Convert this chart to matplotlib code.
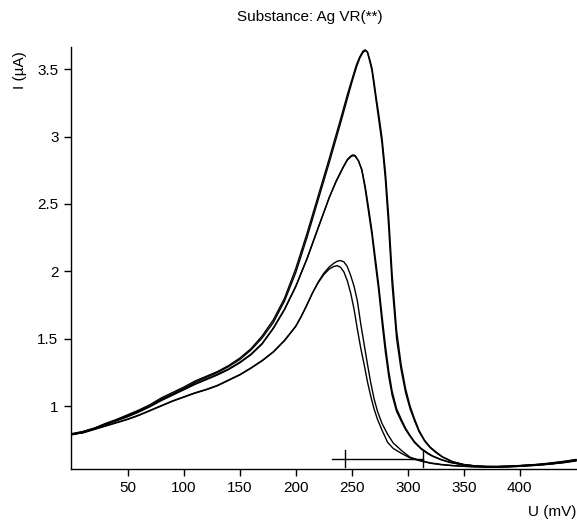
import matplotlib
matplotlib.use("Agg")
import matplotlib.pyplot as plt

# ---- data (U in mV, I in µA) ----
P1_U = [0, 10, 20, 30, 40, 50, 60, 70, 80, 90, 100, 110, 120, 130, 140, 150, 160, 170, 180, 190,
        200, 210, 220, 230, 240, 246, 250, 254, 257, 260, 262, 264, 266, 268, 270, 272, 274, 277,
        280, 283, 286, 290, 294, 298, 302, 306, 310, 315, 320, 325, 331, 340, 350, 360, 370, 380,
        390, 400, 410, 420, 430, 440, 450]
I_1a = [0.79, 0.81, 0.835, 0.87, 0.90, 0.935, 0.97, 1.01, 1.06, 1.10, 1.14, 1.185, 1.22, 1.255,
        1.30, 1.355, 1.425, 1.52, 1.64, 1.80, 2.02, 2.28, 2.56, 2.84, 3.13, 3.31, 3.42, 3.53, 3.59,
        3.635, 3.645, 3.625, 3.56, 3.49, 3.37, 3.25, 3.13, 2.95, 2.68, 2.32, 1.90, 1.50, 1.27,
        1.10, 0.98, 0.89, 0.81, 0.74, 0.69, 0.655, 0.62, 0.585, 0.565, 0.555, 0.55, 0.55, 0.552,
        0.557, 0.562, 0.567, 0.575, 0.585, 0.60]
I_1b = [0.785, 0.805, 0.83, 0.862, 0.895, 0.93, 0.962, 1.0, 1.05, 1.09, 1.13, 1.175, 1.212,
        1.248, 1.292, 1.345, 1.415, 1.505, 1.62, 1.78, 1.99, 2.25, 2.53, 2.81, 3.10, 3.28, 3.40,
        3.51, 3.58, 3.625, 3.638, 3.63, 3.575, 3.51, 3.40, 3.28, 3.17, 2.99, 2.74, 2.40, 1.98,
        1.56, 1.31, 1.13, 1.0, 0.905, 0.82, 0.745, 0.695, 0.66, 0.623, 0.587, 0.566, 0.556,
        0.551, 0.55, 0.551, 0.555, 0.56, 0.566, 0.573, 0.582, 0.595]

P2_U = [0, 10, 20, 30, 40, 50, 60, 70, 80, 90, 100, 110, 120, 130, 140, 150, 160, 170, 180, 190,
        200, 210, 220, 230, 236, 242, 246, 249, 251, 253, 256, 259, 262, 265, 268, 271, 274, 277,
        280, 283, 286, 290, 294, 298, 302, 306, 312, 318, 322, 330, 338, 350, 360, 370, 380, 390,
        400, 410, 420, 430, 440, 450]
I_2a = [0.79, 0.805, 0.83, 0.86, 0.89, 0.92, 0.955, 0.995, 1.04, 1.08, 1.12, 1.16, 1.195, 1.23,
        1.27, 1.32, 1.38, 1.46, 1.575, 1.715, 1.885, 2.09, 2.32, 2.55, 2.67, 2.77, 2.83, 2.855, 2.865,
        2.86, 2.82, 2.75, 2.61, 2.44, 2.27, 2.06, 1.86, 1.62, 1.40, 1.22, 1.08, 0.96, 0.89, 0.825,
        0.775, 0.728, 0.68, 0.645, 0.627, 0.60, 0.58, 0.562, 0.553, 0.55, 0.55, 0.553, 0.557,
        0.562, 0.568, 0.577, 0.588, 0.60]
I_2b = [0.795, 0.81, 0.835, 0.865, 0.895, 0.925, 0.96, 1.0, 1.045, 1.085, 1.125, 1.165, 1.2,
        1.235, 1.275, 1.325, 1.385, 1.465, 1.58, 1.72, 1.89, 2.095, 2.325, 2.55, 2.665, 2.765,
        2.825, 2.85, 2.858, 2.855, 2.82, 2.755, 2.63, 2.47, 2.30, 2.10, 1.90, 1.67, 1.45, 1.26,
        1.11, 0.98, 0.905, 0.835, 0.782, 0.735, 0.685, 0.65, 0.63, 0.602, 0.582, 0.563, 0.554,
        0.551, 0.551, 0.554, 0.558, 0.563, 0.57, 0.58, 0.59, 0.603]

P3_U = [0, 10, 20, 30, 40, 50, 60, 70, 80, 90, 100, 110, 120, 130, 140, 150, 160, 170, 180, 190,
        200, 205, 210, 215, 220, 225, 230, 234, 237, 240, 243, 246, 249, 252, 255, 258, 261, 264,
        267, 270, 273, 277, 282, 287, 295, 302, 310, 320, 330, 340, 350, 360, 370, 380, 390, 400,
        410, 420, 430, 440, 450]
I_3a = [0.79, 0.80, 0.825, 0.85, 0.875, 0.90, 0.93, 0.965, 1.0, 1.035, 1.065, 1.095, 1.12, 1.15,
        1.19, 1.23, 1.28, 1.335, 1.40, 1.485, 1.59, 1.665, 1.75, 1.84, 1.92, 1.985, 2.033, 2.06,
        2.075, 2.08, 2.07, 2.035, 1.97, 1.89, 1.78, 1.61, 1.46, 1.31, 1.17, 1.05, 0.96, 0.87,
        0.79, 0.725, 0.665, 0.62, 0.598, 0.578, 0.566, 0.558, 0.553, 0.549, 0.547, 0.547, 0.549,
        0.553, 0.558, 0.564, 0.572, 0.582, 0.595]
I_3b = [0.79, 0.802, 0.828, 0.853, 0.878, 0.903, 0.933, 0.968, 1.003, 1.038, 1.068, 1.098, 1.123,
        1.153, 1.193, 1.233, 1.283, 1.338, 1.403, 1.488, 1.593, 1.668, 1.752, 1.84, 1.915, 1.975,
        2.018, 2.036, 2.042, 2.03, 1.995, 1.93, 1.84, 1.72, 1.57, 1.43, 1.31, 1.18, 1.07, 0.975,
        0.90, 0.82, 0.73, 0.685, 0.645, 0.615, 0.595, 0.575, 0.564, 0.557, 0.552, 0.548, 0.546,
        0.546, 0.548, 0.552, 0.557, 0.563, 0.571, 0.58, 0.592]

# baseline marker
BASE_U = [232.5, 313.5]
BASE_I = 0.605
MARK_U = [243.8, 313.5]
MARK_I = [0.545, 0.675]

X_TICKS = [50, 100, 150, 200, 250, 300, 350, 400]
Y_TICKS = [1, 1.5, 2, 2.5, 3, 3.5]
Y_TICKLABELS = ["1", "1.5", "2", "2.5", "3", "3.5"]

plt.rcParams['font.family'] = ['Liberation Sans', 'DejaVu Sans']

fig = plt.figure(figsize=(5.77, 5.20), dpi=100)
ax = fig.add_axes([0.1225, 0.098, 0.8775, 0.8115])

for U, I in [(P1_U, I_1a), (P1_U, I_1b), (P2_U, I_2a), (P2_U, I_2b), (P3_U, I_3a), (P3_U, I_3b)]:
    ax.plot(U, I, color='black', lw=1.0, solid_joinstyle='round')

ax.plot(BASE_U, [BASE_I, BASE_I], color='black', lw=1.0, clip_on=False)
for u in MARK_U:
    ax.plot([u, u], MARK_I, color='black', lw=1.0, clip_on=False)

ax.set_xlim(-0.85, 451)
ax.set_ylim(0.532, 3.665)
ax.spines['top'].set_visible(False)
ax.spines['right'].set_visible(False)
ax.spines['left'].set_linewidth(1.0)
ax.spines['bottom'].set_linewidth(1.0)
ax.set_xticks(X_TICKS)
ax.set_yticks(Y_TICKS)
ax.set_yticklabels(Y_TICKLABELS)
ax.tick_params(axis='both', direction='out', length=4.8, width=1.0, labelsize=11, pad=4)

fig.text(310 / 577, 1 - 17 / 520, "Substance: Ag VR(**)", ha='center', va='center', fontsize=11)
fig.text(20 / 577, 1 - 70 / 520, "I (µA)", ha='center', va='center', rotation=90, fontsize=11)
fig.text(576 / 577, 1 - 512 / 520, "U (mV)", ha='right', va='center', fontsize=11)

fig.savefig("out.png", dpi=100)
